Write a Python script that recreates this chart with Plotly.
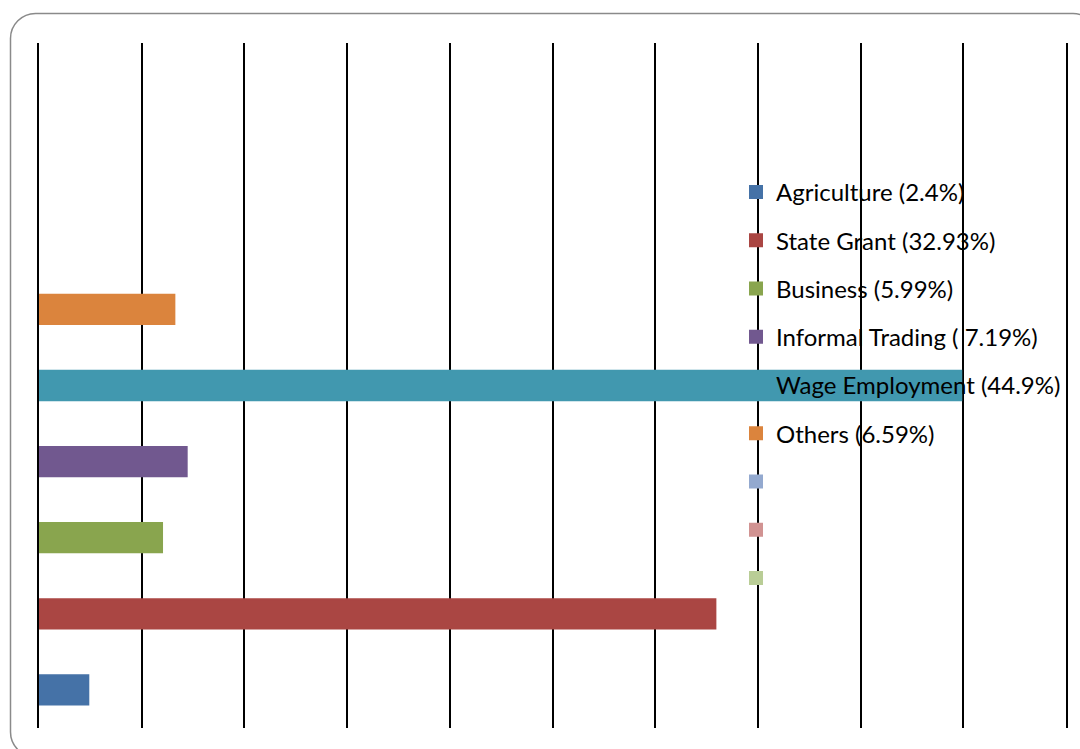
import plotly.graph_objects as go

# ---- data ----
series_names = [
    "Agriculture (2.4%)",
    "State Grant (32.93%)",
    "Business (5.99%)",
    "Informal Trading ( 7.19%)",
    "Wage Employment (44.9%)",
    "Others (6.59%)",
    "",
    "",
    "",
]
series_values = [2.4, 32.93, 5.99, 7.19, 44.9, 6.59, None, None, None]
category_pos = [0, 1, 2, 3, 4, 5, 6, 7, 8]
series_colors = [
    "#4572A7", "#AA4643", "#89A54E", "#71588F", "#4198AF",
    "#DB843D", "#93A9CF", "#D19392", "#B9CD96",
]
x_ticks = [0, 5, 10, 15, 20, 25, 30, 35, 40, 45, 50]

W, H = 1080, 749
ML, MR, MT, MB = 39, 14, 43, 21

fig = go.Figure()
for i, (name, val, pos, col) in enumerate(zip(series_names, series_values, category_pos, series_colors)):
    fig.add_trace(go.Bar(
        x=[val], y=[pos], orientation="h", name=name,
        marker=dict(color=col, line=dict(width=2, color=col)),
        width=0.385, legendgroup=f"g{i}",
    ))

# rounded frame (pixel coordinates converted to paper)
pw = W - ML - MR
ph = H - MT - MB
def px(x):
    return (x - ML) / pw
def py(y):
    return (H - MB - y) / ph

L, T, R, B, r = 10.5, 13.5, 1098, 757, 25
k = 0.45
path = (
    f"M{px(L)},{py(T + r)} "
    f"C{px(L)},{py(T + r * k)} {px(L + r * k)},{py(T)} {px(L + r)},{py(T)} "
    f"L{px(R - r)},{py(T)} "
    f"C{px(R - r * k)},{py(T)} {px(R)},{py(T + r * k)} {px(R)},{py(T + r)} "
    f"L{px(R)},{py(B - r)} "
    f"C{px(R)},{py(B - r * k)} {px(R - r * k)},{py(B)} {px(R - r)},{py(B)} "
    f"L{px(L + r)},{py(B)} "
    f"C{px(L + r * k)},{py(B)} {px(L)},{py(B - r * k)} {px(L)},{py(B - r)} Z"
)
fig.add_shape(type="path", path=path, xref="paper", yref="paper",
              line=dict(color="#8a8a8a", width=1.5), fillcolor="rgba(0,0,0,0)",
              layer="above")

FS = 24
fig.update_layout(
    width=W, height=H,
    margin=dict(l=ML, r=MR, t=MT, b=MB, pad=0),
    paper_bgcolor="white", plot_bgcolor="white",
    barmode="overlay",
    font=dict(family="Lato, Carlito, Calibri, sans-serif", color="black", size=FS),
    showlegend=True,
    legend=dict(
        x=px(736), y=py(170), xanchor="left", yanchor="top",
        bgcolor="rgba(0,0,0,0)", borderwidth=0,
        traceorder="grouped", tracegroupgap=48.25 - (FS * 1.3 + 3),
        font=dict(size=FS, color="black"),
        itemclick=False, itemdoubleclick=False,
    ),
    xaxis=dict(range=[0, 50], tickvals=x_ticks, showticklabels=False,
               showgrid=True, gridcolor="black", gridwidth=1.5,
               zeroline=False, showline=False, ticks=""),
    yaxis=dict(range=[-0.5, 8.5], showticklabels=False, showgrid=False,
               zeroline=False, showline=True, mirror=True,
               linecolor="black", linewidth=1.5, ticks=""),
)

fig.write_html("out.html")
